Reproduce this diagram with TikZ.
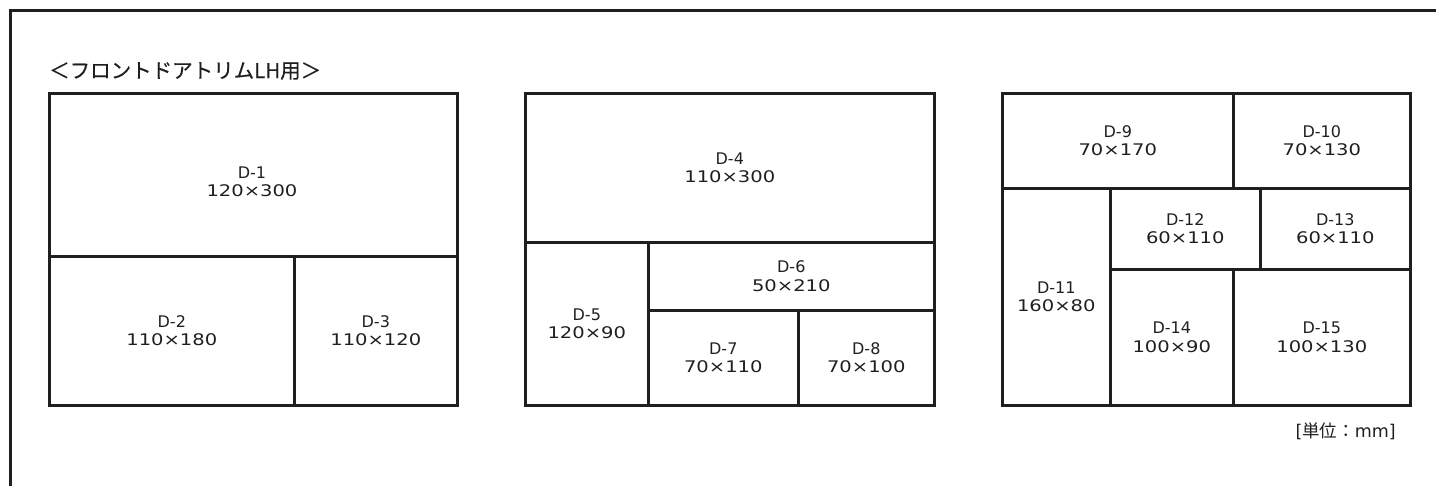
\documentclass[tikz,border=0pt]{standalone}
\usepackage{fontspec}
\setmainfont{DejaVu Sans}
\newfontfamily\jpfont{Noto Sans CJK JP}
\newfontfamily\jptitle[FakeBold=0.3]{Noto Sans CJK JP}
\newfontfamily\numfont[FakeStretch=1.22]{DejaVu Sans}
\begin{document}
\begin{tikzpicture}[x=1pt,y=-1pt,
  frame/.style={line width=2.8pt,draw=black!88},
  cell/.style={draw=black!88,line width=2.6pt,rectangle,inner sep=0pt,anchor=north west,
     align=center,font=\fontsize{16}{18.5}\selectfont,text=black!88},
  lbl/.style={align=center,font=\fontsize{16}{18.5}\selectfont,text=black!88,inner sep=0pt}]
\useasboundingbox (0,0) rectangle (1436,486);
\draw[frame] (10.5,490) -- (10.5,10.5) -- (1440,10.5);
\node[font=\fontsize{20.5}{24}\selectfont\jptitle,text=black!88,anchor=west,inner sep=0pt] (title) at (49,71) {＜フロントドアトリムLH用＞};
% group 1
\node[cell,minimum width=408pt,minimum height=163pt] (d1) at (48,92) {};
\node[lbl] (d1t) at (252,182) {D-1\\{\numfont 120×300}};
\node[cell,minimum width=245pt,minimum height=149pt] (d2) at (48,255) {D-2\\{\numfont 110×180}};
\node[cell,minimum width=163pt,minimum height=149pt] (d3) at (293,255) {D-3\\{\numfont 110×120}};
% group 2
\node[cell,minimum width=409pt,minimum height=149pt] (d4) at (524,92) {D-4\\{\numfont 110×300}};
\node[cell,minimum width=123pt,minimum height=163pt] (d5) at (524,241) {D-5\\{\numfont 120×90}};
\node[cell,minimum width=286pt,minimum height=68pt] (d6) at (647,241) {D-6\\{\numfont 50×210}};
\node[cell,minimum width=150pt,minimum height=95pt] (d7) at (647,309) {D-7\\{\numfont 70×110}};
\node[cell,minimum width=136pt,minimum height=95pt] (d8) at (797,309) {D-8\\{\numfont 70×100}};
% group 3
\node[cell,minimum width=231pt,minimum height=95pt] (d9) at (1001,92) {D-9\\{\numfont 70×170}};
\node[cell,minimum width=177pt,minimum height=95pt] (d10) at (1232,92) {D-10\\{\numfont 70×130}};
\node[cell,minimum width=108pt,minimum height=217pt] (d11) at (1001,187) {D-11\\{\numfont 160×80}};
\node[cell,minimum width=150pt,minimum height=81pt] (d12) at (1109,187) {D-12\\{\numfont 60×110}};
\node[cell,minimum width=150pt,minimum height=81pt] (d13) at (1259,187) {D-13\\{\numfont 60×110}};
\node[cell,minimum width=123pt,minimum height=136pt] (d14) at (1109,268) {D-14\\{\numfont 100×90}};
\node[cell,minimum width=177pt,minimum height=136pt] (d15) at (1232,268) {D-15\\{\numfont 100×130}};
\node[font=\fontsize{17.5}{20}\selectfont,text=black!88,anchor=east,inner sep=0pt] (unit) at (1396,431) {[{\jpfont 単位：}mm]};
\end{tikzpicture}
\end{document}
